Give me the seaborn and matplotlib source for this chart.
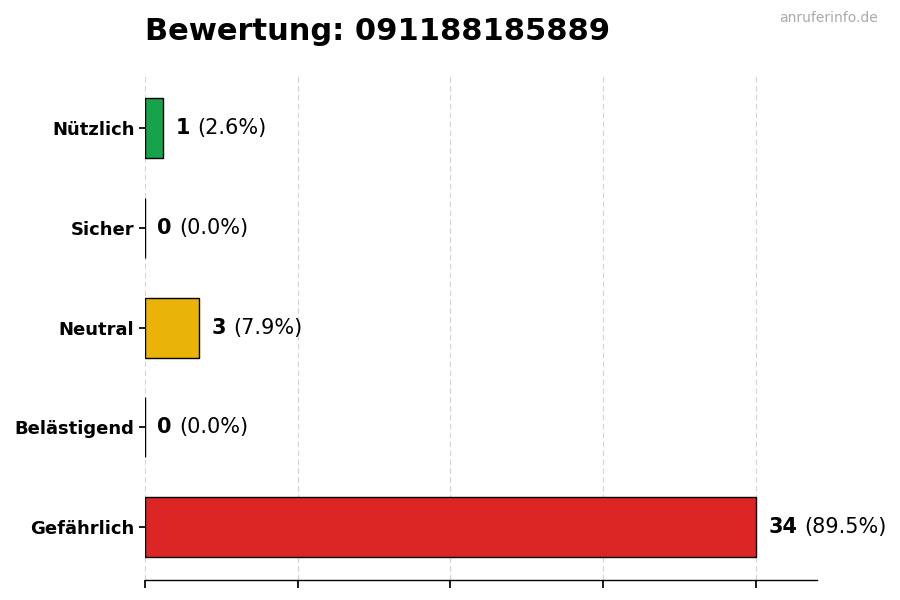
import matplotlib
matplotlib.use("Agg")
import matplotlib.pyplot as plt
import seaborn as sns
import pandas as pd

categories = ["Nützlich", "Sicher", "Neutral", "Belästigend", "Gefährlich"]
counts = [1, 0, 3, 0, 34]
colors = ["#16a34a", "#9ca3af", "#eab308", "#f97316", "#dc2626"]
title = "Bewertung: 091188185889"
watermark = "anruferinfo.de"

total = sum(counts)
df = pd.DataFrame({"cat": categories, "n": counts})

sns.set_theme(style="white")
plt.rcParams["font.family"] = ["DejaVu Sans"]
plt.rcParams["text.color"] = "black"
plt.rcParams["axes.labelcolor"] = "black"
plt.rcParams["xtick.color"] = "black"
plt.rcParams["ytick.color"] = "black"

fig = plt.figure(figsize=(9, 6), dpi=100)
ax = fig.add_axes([0.161, 0.033, 0.747, 0.842])

sns.barplot(data=df, y="cat", x="n", hue="cat", palette=colors, order=categories,
            hue_order=categories, orient="h", width=0.6, edgecolor="black",
            linewidth=1, legend=False, ax=ax, saturation=1)

xmax = max(counts) * 1.1
ax.set_xlim(0, xmax)
ax.set_ylim(len(categories) - 0.47, -0.53)
ax.set_xticks([i * max(counts) / 4 for i in range(5)])
ax.set_xticklabels([])
ax.tick_params(axis="x", length=6, color="black", direction="out", bottom=True)
ax.tick_params(axis="y", length=4, color="black", left=True, labelsize=13)
for lbl in ax.get_yticklabels():
    lbl.set_fontweight("bold")
    lbl.set_color("black")
ax.set_xlabel("")
ax.set_ylabel("")
ax.grid(axis="x", linestyle=(0, (5, 3)), color="#d4d4d4", linewidth=0.8)
ax.set_axisbelow(True)
for s in ["top", "right", "left"]:
    ax.spines[s].set_visible(False)
ax.spines["bottom"].set_color("black")
ax.spines["bottom"].set_linewidth(1)

for i, (c, n) in enumerate(zip(categories, counts)):
    pct = 100 * n / total
    t = ax.annotate(str(n), xy=(n, i), xytext=(9, 0), textcoords="offset points",
                    va="center", ha="left", fontsize=15, fontweight="bold", color="black")
    ax.annotate(f"({pct:.1f}%)", xy=(1, 0.5), xycoords=t, xytext=(5, 0),
                textcoords="offset points", va="center", ha="left", fontsize=15,
                color="black")

fig.text(0.161, 0.947, title, fontsize=22, fontweight="bold", ha="left", va="center",
         color="black")
fig.text(0.975, 0.97, watermark, fontsize=10, color="#aaaaaa", ha="right", va="center")

fig.savefig("out.png", dpi=100)
